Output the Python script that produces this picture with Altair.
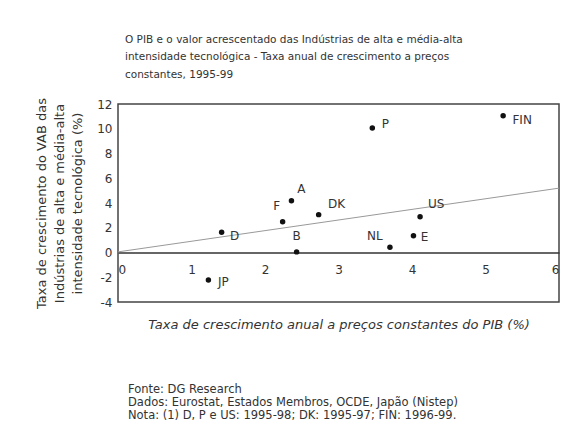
import altair as alt
import pandas as pd

# ---- data ----
countries = ["D", "JP", "F", "A", "B", "DK", "P", "FIN", "US", "E", "NL"]
gdp_growth = [1.41, 1.23, 2.24, 2.36, 2.43, 2.73, 3.46, 5.24, 4.11, 4.02, 3.70]
vab_growth = [1.63, -2.22, 2.49, 4.19, 0.05, 3.06, 10.06, 11.05, 2.89, 1.36, 0.42]

trend_x = [0, 6]
trend_y = [0.05, 5.2]

x_ticks = [0, 1, 2, 3, 4, 5, 6]
y_ticks = [-4, -2, 0, 2, 4, 6, 8, 10, 12]

header_lines = [
    "O PIB e o valor acrescentado das Indústrias de alta e média-alta",
    "intensidade tecnológica - Taxa anual de crescimento a preços",
    "constantes, 1995-99",
]
y_title_lines = [
    "Taxa de crescimento do VAB das",
    "Indústrias de alta e média-alta",
    "intensidade tecnológica (%)",
]
x_title = "Taxa de crescimento anual a preços constantes do PIB (%)"
footnote_lines = [
    "Fonte: DG Research",
    "Dados: Eurostat, Estados Membros, OCDE, Japão (Nistep)",
    "Nota: (1) D, P e US: 1995-98; DK: 1995-97; FIN: 1996-99.",
]

# label offsets (style only): dx, dy in pixels
label_offsets = {
    "D": (13, 4), "JP": (15, 2), "F": (-6, -16), "A": (10, -12), "B": (0, -16),
    "DK": (18, -11), "P": (13, -4), "FIN": (19, 4), "US": (16, -13),
    "E": (11, 1), "NL": (-15, -11),
}

FONT = "DejaVu Sans"
TEXT = "#333333"
W, H = 441, 198
Y_MIN, Y_MAX = -4, 12
X_MIN, X_MAX = 0, 6
zero_offset = -H * (0 - Y_MIN) / (Y_MAX - Y_MIN)

pts = pd.DataFrame({"pais": countries, "pib": gdp_growth, "vab": vab_growth})
trend = pd.DataFrame({"pib": trend_x, "vab": trend_y})

x_scale = alt.Scale(domain=[X_MIN, X_MAX], nice=False, zero=False)
y_scale = alt.Scale(domain=[Y_MIN, Y_MAX], nice=False)

x_axis = alt.Axis(
    values=x_ticks, offset=zero_offset, ticks=False, grid=False,
    domain=True, domainColor="#333333", domainWidth=1.5,
    labelAlign=alt.ExprRef(
        f"datum.value == {X_MIN} ? 'left' : datum.value == {X_MAX} ? 'right' : 'center'"
    ),
    labelExpr=(
        f"datum.value == {X_MIN} ? ' ' + datum.value : "
        f"datum.value == {X_MAX} ? datum.value + ' ' : '' + datum.value"
    ),
    labelPadding=12,
    labelFont=FONT, labelFontSize=12, labelColor=TEXT,
    title=x_title, titleFont=FONT, titleFontStyle="italic", titleFontWeight="normal",
    titleFontSize=13, titleColor=TEXT, titleX=W / 2, titleY=-zero_offset + 22,
    titleAlign="center", titleBaseline="middle",
)
y_axis = alt.Axis(
    values=y_ticks, ticks=False, grid=False, domain=False, labelOverlap=False,
    labelPadding=6, labelFont=FONT, labelFontSize=12, labelColor=TEXT,
    labelExpr="'' + datum.value",
    title=y_title_lines, titleFont=FONT, titleFontSize=13, titleFontWeight="normal",
    titleColor=TEXT, titleLineHeight=18, titlePadding=12,
)

X = alt.X("pib:Q", scale=x_scale, axis=x_axis)
Y = alt.Y("vab:Q", scale=y_scale, axis=y_axis)

base = alt.Chart(pts)

trend_line = alt.Chart(trend).mark_line(color="#999999", strokeWidth=1).encode(x=X, y=Y)

points = base.mark_circle(size=30, color="#111111", opacity=1).encode(x=X, y=Y)

label_layers = []
for c in countries:
    dx, dy = label_offsets[c]
    label_layers.append(
        base.transform_filter(alt.datum.pais == c)
        .mark_text(dx=dx, dy=dy, font=FONT, fontSize=12, color=TEXT, align="center", baseline="middle")
        .encode(x=X, y=Y, text="pais:N")
    )

main = alt.layer(trend_line, points, *label_layers).properties(
    width=W, height=H,
    title=alt.TitleParams(
        header_lines, anchor="start", frame="group", font=FONT, fontSize=10.5,
        fontWeight="normal", color=TEXT, lineHeight=17.5, dx=7, offset=17,
    ),
)

chart = alt.vconcat(main).properties(
    title=alt.TitleParams(
        footnote_lines, orient="bottom", anchor="start", font=FONT, fontSize=11.5,
        fontWeight="normal", color=TEXT, lineHeight=13, dx=93, offset=52,
    ),
    padding={"left": 26, "top": 26, "right": 5, "bottom": 5},
    background="white",
).configure_view(stroke="#444444", strokeWidth=1.5)

chart.save("out.html", embed_options={"renderer": "svg", "actions": False})
